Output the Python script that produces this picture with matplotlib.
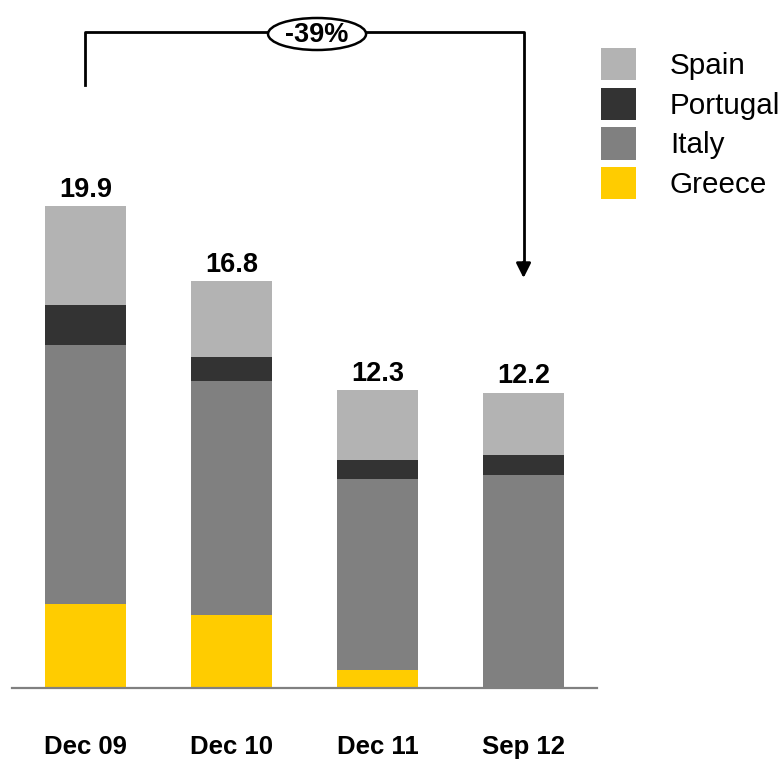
import numpy as np
import matplotlib.pyplot as plt
from matplotlib.patches import Ellipse, Patch

plt.rcParams['font.family'] = ['Liberation Sans', 'DejaVu Sans']

periods = ['Dec 09', 'Dec 10', 'Dec 11', 'Sep 12']
greece = [3.47, 3.0, 0.74, 0.0]
italy = [10.7, 9.7, 7.89, 8.8]
portugal = [1.65, 0.96, 0.79, 0.82]
spain = [4.08, 3.14, 2.88, 2.58]
totals = [19.9, 16.8, 12.3, 12.2]
change_label = '-39%'

colors = {'Greece': '#ffcc00', 'Italy': '#808080',
          'Portugal': '#333333', 'Spain': '#b3b3b3'}

W, H = 783, 759
fig = plt.figure(figsize=(W / 100, H / 100), dpi=100)
base_px = 688
px_per_unit = 24.2
ax = fig.add_axes([12 / W, 1 - base_px / H, 585 / W, base_px / H])

x = np.arange(len(periods))
bottom = np.zeros(len(periods))
for name, vals in [('Greece', greece), ('Italy', italy),
                   ('Portugal', portugal), ('Spain', spain)]:
    ax.bar(x, vals, width=0.555, bottom=bottom, color=colors[name],
           linewidth=0, zorder=2)
    bottom += np.array(vals)

for xi, t in zip(x, totals):
    ax.annotate(f'{t:.1f}', (xi, t), xytext=(0, 12), textcoords='offset points',
                ha='center', va='center', fontsize=19.5, fontweight='bold')

ax.set_xlim(-0.503, 3.503)
ax.set_ylim(0, base_px / px_per_unit)
for s in ['top', 'left', 'right']:
    ax.spines[s].set_visible(False)
ax.spines['bottom'].set_color('#808080')
ax.spines['bottom'].set_linewidth(1.6)
ax.spines['bottom'].set_zorder(3)
ax.set_yticks([])
ax.set_xticks(x)
ax.set_xticklabels(periods, fontsize=18.5, fontweight='bold')
ax.tick_params(axis='x', length=0, pad=33.5)

# bracket with arrow from first to last period
def py(p):
    return (base_px - p) / px_per_unit

y_top = py(32)
ax.plot([x[0], x[0], x[-1], x[-1]], [py(85), y_top, y_top, py(268)],
        color='black', lw=2, clip_on=False, zorder=4)
ax.annotate('', xy=(x[-1], py(278)), xytext=(x[-1], py(262)),
            arrowprops=dict(arrowstyle='-|>', color='black', lw=2,
                            mutation_scale=22, shrinkA=0, shrinkB=0),
            annotation_clip=False)
xc = 1.586
ell = Ellipse((xc, py(34)), 98 / 146, 32 / px_per_unit,
              facecolor='white', edgecolor='black', lw=1.8, clip_on=False, zorder=5)
ax.add_patch(ell)
ax.text(xc, py(35), change_label, ha='center', va='center',
        fontsize=19.5, fontweight='bold', zorder=6)

handles = [Patch(facecolor=colors[n], edgecolor='none')
           for n in ['Spain', 'Portugal', 'Italy', 'Greece']]
fig.legend(handles, ['Spain', 'Portugal', 'Italy', 'Greece'],
           loc='upper left', bbox_to_anchor=(601 / W, 1 - 48 / H),
           frameon=False, fontsize=21.3, borderpad=0, borderaxespad=0,
           handlelength=1.18, handleheight=1.29, handletextpad=1.15,
           labelspacing=0.26)

fig.savefig('out.png', dpi=100)
